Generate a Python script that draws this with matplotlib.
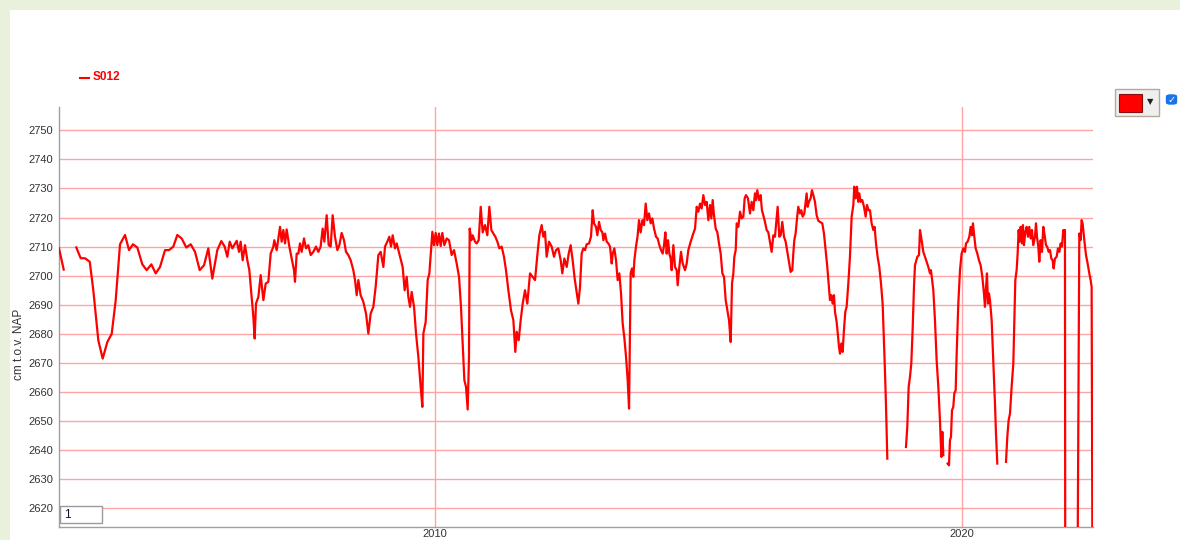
import matplotlib.pyplot as plt
import numpy as np
from matplotlib.patches import Rectangle, FancyBboxPatch
from matplotlib.lines import Line2D

nan = float('nan')

# Groundwater level S012 (decimal year, cm t.o.v. NAP); nan marks a gap in the record
years = [
    2002.865, 2002.954, nan,
    2003.193, 2003.277, 2003.359, 2003.448, 2003.516, 2003.611, 2003.694, 2003.782, 2003.865, 2003.941,
    2004.023, 2004.118, 2004.194, 2004.269, 2004.351, 2004.446, 2004.529, 2004.617, 2004.700, 2004.782,
    2004.877, 2004.953, 2005.034, 2005.110, 2005.193, 2005.281, 2005.364, 2005.446, 2005.535, 2005.617,
    2005.698, 2005.774, 2005.869, 2005.945, 2006.009, 2006.059, 2006.104, 2006.154,
    2006.237, 2006.281, 2006.312, 2006.350, 2006.395, 2006.439, 2006.477, 2006.521, 2006.553, 2006.578,
    2006.603, 2006.648, 2006.692, 2006.743, 2006.787, 2006.837, 2006.882, 2006.932, 2006.951, 2006.996,
    2007.059, 2007.090, 2007.122, 2007.154, 2007.185, 2007.236, 2007.280, 2007.324, 2007.343, 2007.375,
    2007.407, 2007.438, 2007.470, 2007.514, 2007.552, 2007.596, 2007.641, 2007.691, 2007.742, 2007.786,
    2007.830, 2007.868, 2007.900, 2007.944, 2007.982, 2008.020, 2008.058, 2008.102, 2008.147, 2008.185,
    2008.229, 2008.273, 2008.311, 2008.355, 2008.400, 2008.450, 2008.482, 2008.514, 2008.545, 2008.589,
    2008.640, 2008.691, 2008.735, 2008.779, 2008.830, 2008.874, 2008.925, 2008.969, 2009.020, 2009.051,
    2009.095, 2009.133, 2009.165, 2009.197, 2009.241, 2009.273, 2009.336, 2009.386, 2009.424,
    2009.463, 2009.494, 2009.526, 2009.557, 2009.602, 2009.640, 2009.684, 2009.728, 2009.760, 2009.779,
    2009.823, 2009.861, 2009.893, 2009.924, 2009.950, 2009.981, 2010.013, 2010.044, 2010.076, 2010.108,
    2010.139, 2010.177, 2010.222, 2010.266, 2010.316, 2010.361, 2010.411, 2010.456, 2010.493, 2010.525,
    2010.557, 2010.588, 2010.620, 2010.645, 2010.658, 2010.690, 2010.715, 2010.759, 2010.791, 2010.829,
    2010.867, 2010.905, 2010.949, 2010.993, 2011.031, 2011.069, 2011.107, 2011.145, 2011.183, 2011.221,
    2011.265, 2011.309, 2011.347, 2011.392, 2011.442, 2011.487, 2011.524, 2011.550, 2011.588, 2011.626,
    2011.664, 2011.708, 2011.752, 2011.803, 2011.853, 2011.898, 2011.942, 2011.980, 2012.024, 2012.056,
    2012.087, 2012.119, 2012.163, 2012.214, 2012.258, 2012.296, 2012.340, 2012.385, 2012.416, 2012.454,
    2012.499, 2012.537, 2012.574, 2012.612, 2012.650,
    2012.720, 2012.752, 2012.783, 2012.815, 2012.847, 2012.878, 2012.923, 2012.960, 2012.992, 2013.017,
    2013.055, 2013.081, 2013.112, 2013.144, 2013.176, 2013.195, 2013.226, 2013.258, 2013.289, 2013.321,
    2013.353, 2013.372, 2013.403, 2013.435, 2013.466, 2013.498, 2013.530, 2013.561, 2013.593, 2013.625,
    2013.656, 2013.682, 2013.701, 2013.713, 2013.738, 2013.764, 2013.783, 2013.814, 2013.846, 2013.871,
    2013.903, 2013.935, 2013.966, 2013.998, 2014.029, 2014.061, 2014.093, 2014.124, 2014.156, 2014.194,
    2014.225, 2014.257, 2014.289, 2014.320, 2014.346, 2014.371, 2014.396, 2014.422, 2014.447, 2014.472,
    2014.491, 2014.523, 2014.554, 2014.586, 2014.605, 2014.630, 2014.668, 2014.700, 2014.744, 2014.776,
    2014.807, 2014.852, 2014.890, 2014.934, 2014.966, 2014.997, 2015.029, 2015.060, 2015.092, 2015.124,
    2015.155, 2015.187, 2015.219, 2015.244, 2015.269, 2015.294, 2015.326, 2015.358, 2015.389, 2015.421,
    2015.453, 2015.484, 2015.516, 2015.547, 2015.579, 2015.611, 2015.636, 2015.661, 2015.680, 2015.706,
    2015.725, 2015.756, 2015.788, 2015.819, 2015.851, 2015.876,
    2015.901, 2015.939, 2015.977, 2016.008, 2016.040, 2016.072, 2016.091, 2016.116, 2016.148, 2016.179,
    2016.204, 2016.230, 2016.261, 2016.293, 2016.325, 2016.356, 2016.388, 2016.420, 2016.451, 2016.470,
    2016.502, 2016.533, 2016.559, 2016.590, 2016.622, 2016.654, 2016.685, 2016.717, 2016.748, 2016.780,
    2016.799, 2016.818, 2016.843, 2016.875, 2016.894, 2016.926, 2016.951, 2016.976, 2017.008, 2017.033,
    2017.052, 2017.071, 2017.096, 2017.128, 2017.153, 2017.179, 2017.210, 2017.242, 2017.273, 2017.305,
    2017.349, 2017.381, 2017.413, 2017.444, 2017.476, 2017.495, 2017.520, 2017.545, 2017.571, 2017.590,
    2017.621, 2017.640, 2017.666, 2017.685, 2017.710, 2017.735, 2017.760, 2017.786, 2017.811, 2017.843,
    2017.874, 2017.906, 2017.938, 2017.956, 2017.982, 2018.007, 2018.032, 2018.051, 2018.077, 2018.108,
    2018.140, 2018.172, 2018.197, 2018.228, 2018.254, 2018.285, 2018.317, 2018.342, 2018.368, 2018.399,
    2018.431, 2018.463, 2018.494, 2018.519, 2018.538, 2018.557, 2018.583, nan,
    2018.937, 2018.962, 2018.988, 2019.013, 2019.038, 2019.063, 2019.089, 2019.108,
    2019.152, 2019.184, 2019.203, 2019.234, 2019.266, 2019.298, 2019.329, 2019.361, 2019.393, 2019.411,
    2019.430, 2019.456, 2019.487, 2019.519, 2019.551, 2019.582, 2019.608, 2019.627, 2019.646, nan,
    2019.728, 2019.753, 2019.772, 2019.791, 2019.810, 2019.835, 2019.854, 2019.880, 2019.899, 2019.930,
    2019.962, 2019.993, 2020.025, 2020.057, 2020.076, 2020.107, 2020.139, 2020.164, 2020.189, 2020.208,
    2020.234, 2020.259, 2020.291, 2020.322, 2020.354, 2020.386, 2020.417, 2020.436, 2020.455, 2020.474,
    2020.493, 2020.512, 2020.531, 2020.563, 2020.594, 2020.626, 2020.645, 2020.670, nan,
    2020.835, 2020.860, 2020.885, 2020.911, 2020.942, 2020.974, 2020.993, 2021.012, 2021.037, 2021.056,
    2021.075, 2021.094, 2021.113, 2021.138, 2021.157, 2021.176, 2021.201, 2021.227, 2021.252, 2021.277,
    2021.303, 2021.328, 2021.353, 2021.385, 2021.404, 2021.423, 2021.448, 2021.467, 2021.492, 2021.518,
    2021.543, 2021.568, 2021.594, 2021.619, 2021.644, 2021.670, 2021.695, 2021.720, 2021.739, 2021.764,
    2021.796, 2021.821, 2021.847, 2021.872, 2021.897, 2021.923, 2021.942, 2021.954, 2021.960, nan,
    2022.188, 2022.226, 2022.251, 2022.270, 2022.289, 2022.321, 2022.353, 2022.384, 2022.416, 2022.441,
    2022.460, 2022.479,
]

levels = [
    2709.4, 2702.1, nan,
    2709.7, 2706.0, 2706.0, 2704.8, 2695.0, 2677.8, 2671.5, 2677.2, 2680.0, 2691.6,
    2710.8, 2714.0, 2708.8, 2710.8, 2709.7, 2703.9, 2701.9, 2703.9, 2700.8, 2703.0,
    2708.8, 2708.8, 2710.0, 2714.0, 2712.8, 2709.7, 2710.8, 2708.2, 2701.9, 2703.6,
    2709.4, 2699.0, 2708.8, 2711.9, 2710.0, 2706.5, 2711.7, 2709.4,
    2712.0, 2708.2, 2711.7, 2705.3, 2710.5, 2705.3, 2701.9, 2692.7, 2685.8, 2678.4,
    2690.4, 2692.7, 2700.2, 2691.6, 2697.3, 2697.9, 2707.6, 2710.0, 2712.2, 2708.8,
    2716.8, 2711.7, 2715.7, 2711.1, 2715.9, 2710.0, 2705.9, 2701.9, 2697.9, 2707.6,
    2707.6, 2711.1, 2708.2, 2712.8, 2709.4, 2710.5, 2707.1, 2708.2, 2710.0, 2708.2,
    2710.0, 2716.2, 2711.7, 2720.8, 2710.5, 2710.0, 2720.8, 2713.4, 2708.8, 2710.5,
    2714.7, 2712.2, 2708.2, 2707.1, 2705.3, 2701.9, 2698.5, 2693.3, 2698.5, 2693.3,
    2691.0, 2687.0, 2680.1, 2687.0, 2689.3, 2696.2, 2707.1, 2708.2, 2703.0, 2710.0,
    2711.7, 2713.4, 2710.0, 2713.9, 2709.4, 2711.1, 2706.5, 2703.0, 2695.0,
    2699.6, 2692.7, 2689.3, 2694.4, 2689.3, 2680.1, 2672.1, 2661.8, 2654.9, 2680.1,
    2684.1, 2698.5, 2700.8, 2708.8, 2715.1, 2710.5, 2714.7, 2710.5, 2714.5, 2710.2,
    2714.7, 2710.5, 2712.8, 2712.2, 2707.1, 2708.8, 2704.2, 2699.6, 2689.3, 2676.7,
    2664.1, 2661.8, 2654.0, 2672.1, 2716.2, 2712.2, 2713.9, 2711.7, 2711.1, 2712.2,
    2723.7, 2714.9, 2717.4, 2713.9, 2723.7, 2715.7, 2714.5, 2713.4, 2711.7, 2709.4,
    2710.0, 2706.5, 2701.9, 2695.0, 2688.1, 2684.7, 2673.8, 2680.7, 2677.8, 2684.7,
    2690.4, 2695.0, 2690.4, 2700.8, 2699.6, 2698.5, 2707.1, 2713.9, 2717.4, 2713.4,
    2715.1, 2706.5, 2711.7, 2710.0, 2706.5, 2708.8, 2709.4, 2705.3, 2700.8, 2705.9,
    2703.0, 2707.6, 2710.5, 2705.3, 2699.0,
    2690.4, 2696.2, 2707.6, 2709.4, 2708.8, 2710.8, 2711.1, 2713.4, 2722.5, 2718.0,
    2716.8, 2713.9, 2718.5, 2715.7, 2714.9, 2712.2, 2714.5, 2711.7, 2711.1, 2710.0,
    2704.2, 2707.6, 2709.4, 2705.3, 2698.5, 2700.8, 2693.9, 2683.6, 2678.6, 2672.1,
    2664.1, 2654.3, 2683.6, 2700.8, 2702.5, 2699.6, 2705.3, 2710.0, 2713.9, 2719.1,
    2714.9, 2719.1, 2717.4, 2724.8, 2719.1, 2721.4, 2718.0, 2719.7, 2716.2, 2713.4,
    2712.8, 2710.5, 2708.8, 2707.6, 2710.5, 2714.9, 2707.6, 2712.2, 2707.6, 2705.9,
    2701.9, 2710.5, 2703.0, 2701.9, 2696.7, 2701.9, 2708.2, 2704.2, 2701.9, 2704.2,
    2708.8, 2711.7, 2713.9, 2716.2, 2723.7, 2722.0, 2724.8, 2723.1, 2727.7, 2724.3,
    2725.4, 2719.1, 2724.3, 2719.7, 2726.0, 2720.8, 2716.2, 2714.9, 2711.1, 2707.6,
    2700.8, 2699.6, 2691.6, 2688.1, 2684.7, 2677.2, 2697.3, 2700.8, 2706.5, 2708.8,
    2718.0, 2716.8, 2722.0, 2719.7, 2720.3, 2726.6,
    2727.7, 2726.6, 2721.4, 2725.4, 2722.5, 2728.3, 2726.0, 2729.4, 2726.0, 2727.7,
    2722.5, 2720.8, 2718.5, 2715.7, 2714.9, 2711.7, 2708.2, 2713.9, 2713.4, 2717.4,
    2723.7, 2713.4, 2713.9, 2718.5, 2713.4, 2711.7, 2708.2, 2704.8, 2701.3, 2701.9,
    2707.6, 2712.2, 2714.5, 2720.8, 2723.7, 2721.4, 2722.5, 2720.3, 2721.4, 2725.4,
    2728.3, 2723.7, 2725.4, 2726.6, 2729.4, 2727.7, 2725.4, 2720.8, 2718.9, 2718.5,
    2718.0, 2714.5, 2708.8, 2703.0, 2695.6, 2691.6, 2693.3, 2690.4, 2693.3, 2687.6,
    2684.1, 2680.7, 2675.5, 2673.2, 2676.7, 2673.8, 2681.3, 2687.6, 2689.3, 2697.3,
    2706.5, 2720.3, 2724.3, 2730.6, 2726.6, 2730.6, 2725.4, 2728.3, 2725.4, 2726.0,
    2723.7, 2720.3, 2724.3, 2722.5, 2722.5, 2718.0, 2715.7, 2716.8, 2711.1, 2706.5,
    2703.0, 2697.3, 2690.4, 2677.8, 2667.5, 2656.0, 2637.1, nan,
    2641.1, 2648.0, 2661.8, 2665.2, 2669.8, 2681.3, 2696.2, 2703.6,
    2706.5, 2707.1, 2715.7, 2712.2, 2708.2, 2706.5, 2704.8, 2703.0, 2700.8, 2701.9,
    2699.0, 2695.0, 2684.7, 2670.9, 2661.8, 2650.3, 2637.7, 2646.3, 2638.3, nan,
    2635.4, 2634.8, 2643.4, 2644.6, 2653.7, 2654.9, 2659.5, 2660.6, 2673.2, 2690.4,
    2701.9, 2707.6, 2709.4, 2708.2, 2711.1, 2711.7, 2713.4, 2716.8, 2713.9, 2718.0,
    2713.4, 2709.4, 2707.6, 2705.3, 2703.6, 2699.6, 2693.9, 2689.3, 2695.6, 2700.8,
    2690.4, 2693.9, 2691.6, 2684.7, 2670.9, 2656.0, 2645.7, 2635.4, nan,
    2636.0, 2644.6, 2650.3, 2652.6, 2661.8, 2669.8, 2684.7, 2698.5, 2701.9, 2707.6,
    2715.7, 2711.7, 2716.8, 2711.1, 2717.4, 2710.5, 2714.9, 2716.8, 2713.4, 2716.8,
    2712.8, 2715.7, 2710.5, 2713.4, 2718.0, 2713.4, 2710.0, 2704.8, 2712.2, 2708.2,
    2716.8, 2713.9, 2710.5, 2709.9, 2708.2, 2708.8, 2705.9, 2705.3, 2702.5, 2705.9,
    2706.5, 2709.4, 2708.2, 2711.1, 2710.0, 2715.7, 2713.4, 2715.7, 2580.0, nan,
    2580.0, 2714.5, 2712.2, 2719.1, 2718.0, 2712.2, 2707.1, 2704.2, 2700.8, 2698.5,
    2696.2, 2580.0,
]

y_ticks = [2620, 2630, 2640, 2650, 2660, 2670, 2680, 2690, 2700, 2710, 2720, 2730, 2740, 2750]
x_ticks = [2010, 2020]
series_name = 'S012'
y_label = 'cm t.o.v. NAP'

W, H = 1180, 540
plt.rcParams['font.family'] = ['Liberation Sans', 'DejaVu Sans']

fig = plt.figure(figsize=(W / 100, H / 100), dpi=100, facecolor='#e9f0dc')

# white page on the green background
fig.patches.append(Rectangle((10 / W, 0), 1, 1 - 10 / H, transform=fig.transFigure,
                             facecolor='white', edgecolor='none', zorder=-2))

ax = fig.add_axes([59 / W, 13 / H, (1093 - 59) / W, (527 - 107) / H])
ax.plot(years, levels, color='#ff0000', lw=1.6, zorder=3)

ax.set_xlim(2002.865, 2022.486)
ax.set_ylim(2613.6, 2758.0)
ax.set_yticks(y_ticks)
ax.set_xticks(x_ticks)
ax.set_xticklabels([str(t) for t in x_ticks])
ax.tick_params(axis='y', length=0, labelsize=8, labelcolor='#333333', pad=4)
ax.tick_params(axis='x', length=0, labelsize=8, labelcolor='#333333', pad=1.5)

# pink grid like the web chart
ax.grid(True, color='#ffa4a4', lw=1)
ax.set_axisbelow(True)

for s in ['top', 'right']:
    ax.spines[s].set_visible(False)
for s in ['left', 'bottom']:
    ax.spines[s].set_color('#a0a0a0')
    ax.spines[s].set_linewidth(1)

fig.text(18.5 / W, 1 - 344 / H, y_label, rotation=90, ha='center', va='center',
         fontsize=8.5, color='#333333')

# legend at top left
fig.add_artist(Line2D([80 / W, 89 / W], [1 - 77.5 / H] * 2, color='#ff0000', lw=1.5,
                      transform=fig.transFigure))
fig.text(93 / W, 1 - 77.5 / H, series_name, ha='left', va='center', fontsize=8.5,
         fontweight='bold', color='#ff0000')

# colour picker and checkbox at top right
fig.patches.append(Rectangle((1114.5 / W, 1 - 116 / H), 44 / W, 27 / H, transform=fig.transFigure,
                             facecolor='#efefef', edgecolor='#b5a99a', lw=1, zorder=5))
fig.patches.append(Rectangle((1119 / W, 1 - 111.5 / H), 22.5 / W, 18 / H, transform=fig.transFigure,
                             facecolor='#ff0000', edgecolor='#8a1010', lw=0.8, zorder=6))
fig.text(1150 / W, 1 - 102 / H, '\u25bc', ha='center', va='center', fontsize=6,
         color='#222222', family=['DejaVu Sans'], zorder=6)
fig.patches.append(FancyBboxPatch((1166.5 / W, 1 - 104 / H), 10 / W, 9 / H,
                                  boxstyle='round,pad=0,rounding_size=0.003',
                                  transform=fig.transFigure, facecolor='#1a73e8',
                                  edgecolor='#1a73e8', zorder=5))
fig.text(1171.5 / W, 1 - 99.5 / H, '\u2713', ha='center', va='center', fontsize=7,
         color='white', fontweight='bold', family=['DejaVu Sans'], zorder=6)

# small input box in the lower left corner
fig.patches.append(Rectangle((60.5 / W, 1 - 523 / H), 42 / W, 17 / H, transform=fig.transFigure,
                             facecolor='white', edgecolor='#9a9a9a', lw=1, zorder=5))
fig.text(64 / W, 1 - 515 / H, '1', ha='left', va='center', fontsize=8.5,
         color='#111133', zorder=6)

fig.savefig('out.png', dpi=100, facecolor=fig.get_facecolor())
